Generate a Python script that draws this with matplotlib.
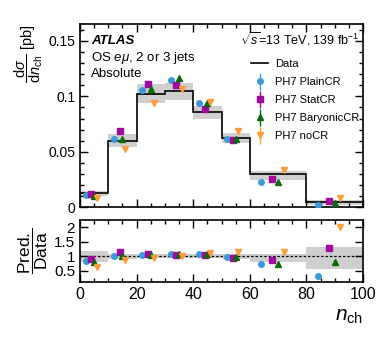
import matplotlib
matplotlib.use("Agg")
import matplotlib.pyplot as plt
import numpy as np
from matplotlib.ticker import MultipleLocator
from matplotlib.container import ErrorbarContainer
from matplotlib.legend_handler import HandlerErrorbar

plt.rcParams['font.family'] = ['Liberation Sans', 'DejaVu Sans']
plt.rcParams['mathtext.fontset'] = 'custom'
plt.rcParams['mathtext.rm'] = 'Liberation Sans'
plt.rcParams['mathtext.it'] = 'Liberation Sans:italic'
plt.rcParams['mathtext.bf'] = 'Liberation Sans:bold'

# bin edges in n_ch
edges = [0, 10, 20, 30, 40, 50, 60, 80, 100]

# unfolded data and its uncertainty band
data = [0.0131, 0.0598, 0.1018, 0.1048, 0.0860, 0.0628, 0.0298, 0.0048]
band_lo = [0.0101, 0.0540, 0.0940, 0.0970, 0.0800, 0.0580, 0.0244, 0.0018]
band_hi = [0.0152, 0.0660, 0.1110, 0.1120, 0.0913, 0.0667, 0.0324, 0.0071]

# ratio panel band
ratio_band_lo = [0.81, 0.89, 0.93, 0.93, 0.93, 0.92, 0.81, 0.56]
ratio_band_hi = [1.19, 1.09, 1.07, 1.07, 1.07, 1.06, 1.07, 1.32]

# predictions
plain = [0.0113, 0.0616, 0.1060, 0.1146, 0.0940, 0.0616, 0.0226, 0.0021]
stat = [0.0119, 0.0688, 0.1107, 0.1104, 0.0884, 0.0604, 0.0259, 0.0056]
baryonic = [0.0107, 0.0616, 0.1063, 0.1164, 0.0940, 0.0616, 0.0232, 0.0036]
nocr = [0.0089, 0.0527, 0.0940, 0.1063, 0.0952, 0.0690, 0.0336, 0.0083]

plain_r = [0.85, 1.02, 1.03, 1.09, 1.09, 0.99, 0.74, 0.33]
stat_r = [0.90, 1.16, 1.09, 1.05, 1.03, 0.95, 0.86, 1.27]
baryonic_r = [0.82, 1.00, 1.03, 1.07, 1.07, 0.98, 0.75, 0.80]
nocr_r = [0.63, 0.88, 0.93, 1.02, 1.12, 1.14, 1.15, 1.99]

models = [
    ('PH7 PlainCR', plain, plain_r, '#3a9ad9', 'o', 0.2, 4.0),
    ('PH7 StatCR', stat, stat_r, '#a0089e', 's', 0.4, 3.8),
    ('PH7 BaryonicCR', baryonic, baryonic_r, '#0a6b0a', '^', 0.5, 4.2),
    ('PH7 noCR', nocr, nocr_r, '#ff9c3a', 'v', 0.6, 4.2),
]

edges = np.array(edges)
lo = edges[:-1]
width = np.diff(edges)

fig = plt.figure(figsize=(3.82, 3.46), dpi=100)
ax = fig.add_axes([0.2094, 0.4003, 0.7409, 0.5303])
rax = fig.add_axes([0.2094, 0.185, 0.7409, 0.1792])

# top panel
ax.bar(lo, np.array(band_hi) - np.array(band_lo), width=width, bottom=band_lo,
       align='edge', color='#cfcfcf', linewidth=0, zorder=1)
ax.stairs(data, edges, color='black', linewidth=1.2, zorder=2, label='Data')
for name, vals, rvals, col, mk, frac, ms in models:
    ax.errorbar(lo + frac * width, vals, yerr=np.zeros(len(vals)), fmt=mk,
                color=col, ms=ms, elinewidth=1.0, capsize=0, zorder=3, label=name)

ax.set_xlim(0, 100)
ax.set_ylim(0, 0.165)
ax.set_yticks([0, 0.05, 0.1, 0.15])
ax.set_yticklabels(['0', '0.05', '0.1', '0.15'])
ax.yaxis.set_minor_locator(MultipleLocator(0.01))
ax.xaxis.set_major_locator(MultipleLocator(20))
ax.xaxis.set_minor_locator(MultipleLocator(5))
ax.tick_params(labelbottom=False)
ax.set_ylabel(r'$\dfrac{\mathrm{d}\sigma}{\mathrm{d}n_{\mathrm{ch}}}$ [pb]', fontsize=10.5, loc='top')

ax.text(0.04, 0.89, 'ATLAS', transform=ax.transAxes, fontsize=9.5,
        fontweight='bold', fontstyle='italic')
ax.text(0.04, 0.80, r'OS $e\mu$, 2 or 3 jets', transform=ax.transAxes, fontsize=9.5)
ax.text(0.04, 0.71, 'Absolute', transform=ax.transAxes, fontsize=9.5)
ax.text(0.988, 0.89, r'$\sqrt{s}$=13 TeV, 139 fb$^{-1}$', transform=ax.transAxes,
        fontsize=9, ha='right')
ax.legend(loc='upper right', bbox_to_anchor=(1.015, 0.85), frameon=False,
          fontsize=8, handlelength=1.6, handletextpad=0.6, labelspacing=0.72,
          borderpad=0.2,
          handler_map={ErrorbarContainer: HandlerErrorbar(xerr_size=0, yerr_size=0.75)})

# ratio panel
rax.bar(lo, np.array(ratio_band_hi) - np.array(ratio_band_lo), width=width,
        bottom=ratio_band_lo, align='edge', color='#cfcfcf', linewidth=0, zorder=1)
rax.axhline(1.0, color='black', linestyle=(0, (2, 1.5)), linewidth=0.9, zorder=2)
for name, vals, rvals, col, mk, frac, ms in models:
    rax.plot(lo + frac * width, rvals, mk, color=col, ms=ms, zorder=3)

rax.set_xlim(0, 100)
rax.set_ylim(0.12, 2.24)
rax.set_yticks([0.5, 1, 1.5, 2])
rax.set_yticklabels(['0.5', '1', '1.5', '2'])
rax.xaxis.set_major_locator(MultipleLocator(20))
rax.xaxis.set_minor_locator(MultipleLocator(5))
rax.set_ylabel(r'$\dfrac{\mathrm{Pred.}}{\mathrm{Data}}$', fontsize=12.5)
rax.set_xlabel(r'$n_{\mathrm{ch}}$', fontsize=15, loc='right')

for a in (ax, rax):
    a.tick_params(which='both', direction='in', top=True, right=True, width=1)
    a.tick_params(which='major', length=6)
    a.tick_params(which='minor', length=3)
    for s in a.spines.values():
        s.set_linewidth(1.2)
ax.tick_params(labelsize=10)
rax.tick_params(axis='x', labelsize=11.5)
rax.tick_params(axis='y', labelsize=11)
rax.yaxis.set_label_coords(-0.105, 0.5)
ax.yaxis.set_label_coords(-0.125, 1.0)

fig.savefig('out.png', dpi=100)
